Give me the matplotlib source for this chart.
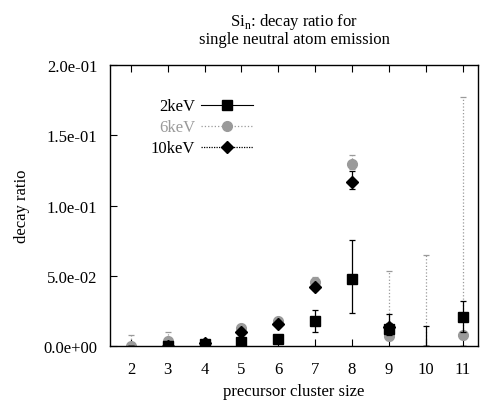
import numpy as np
import matplotlib
matplotlib.use("Agg")
import matplotlib.pyplot as plt
from matplotlib.lines import Line2D

plt.rcParams['font.family'] = ['Liberation Serif', 'DejaVu Serif']
plt.rcParams['mathtext.fontset'] = 'custom'
plt.rcParams['mathtext.rm'] = 'Liberation Serif'

# === donnees ===
sizes = [2, 3, 4, 5, 6, 7, 8, 9, 10, 11]

# nan = pas de point visible (valeur nulle cachee sous l'axe)
r2 = [np.nan, 0.0, 0.0015, 0.003, 0.005, 0.018, 0.048, 0.012, np.nan, 0.021]
r2_lo = [0.0, 0.0, 0.0, 0.002, 0.001, 0.008, 0.0245, 0.004, 0.0, 0.011]
r2_hi = [0.0, 0.0, 0.001, 0.002, 0.002, 0.008, 0.0275, 0.011, 0.014, 0.011]

r6 = [0.0, 0.004, 0.001, 0.013, 0.018, 0.046, 0.130, 0.0075, np.nan, 0.008]
r6_lo = [0.0, 0.003, 0.001, 0.002, 0.002, 0.003, 0.004, 0.003, 0.0, 0.003]
r6_hi = [0.008, 0.006, 0.001, 0.002, 0.002, 0.003, 0.006, 0.046, 0.065, 0.169]

r10 = [np.nan, 0.0, 0.002, 0.010, 0.016, 0.042, 0.117, 0.0135, np.nan, np.nan]
r10_lo = [0.0, 0.0, 0.001, 0.002, 0.002, 0.002, 0.005, 0.003, 0.0, 0.0]
r10_hi = [0.0, 0.0, 0.001, 0.002, 0.002, 0.002, 0.008, 0.003, 0.0, 0.0]

gray = '#9a9a9a'

fig = plt.figure(figsize=(4.8, 4.06), dpi=100)
ax = fig.add_axes([0.229, 0.145, 0.767, 0.692])


def draw(vals, lo, hi, marker, color, ms, ls, z):
    base = np.nan_to_num(np.array(vals, dtype=float))
    eb = ax.errorbar(sizes, base, yerr=[lo, hi], fmt='none', ecolor=color,
                     elinewidth=0.9, capsize=2, capthick=0.9, zorder=z)
    eb[2][0].set_linestyle(ls)
    ax.plot(sizes, vals, marker=marker, ls='none', color=color, ms=ms, zorder=z)


draw(r6, r6_lo, r6_hi, 'o', gray, 7, ':', 2)
draw(r10, r10_lo, r10_hi, 'D', 'black', 6, '-', 3)
draw(r2, r2_lo, r2_hi, 's', 'black', 7, '-', 4)

handles = [
    Line2D([], [], color='black', marker='s', ms=7, ls='-', lw=0.8),
    Line2D([], [], color=gray, marker='o', ms=7, ls=':', lw=0.9),
    Line2D([], [], color='black', marker='D', ms=6, ls=(0, (1, 1)), lw=0.9),
]
leg = ax.legend(handles, ['2keV', '6keV', '10keV'], loc='upper left',
                bbox_to_anchor=(0.07, 0.935), frameon=False, markerfirst=False,
                handlelength=3.1, fontsize=12, labelspacing=0.3,
                handletextpad=0.35)
leg.get_texts()[1].set_color(gray)

ax.set_xlim(1.43, 11.42)
ax.set_ylim(0, 0.2)
ax.set_xticks(sizes)
ax.set_yticks([0, 0.05, 0.1, 0.15, 0.2])
ax.set_yticklabels(['0.0e+00', '5.0e-02', '1.0e-01', '1.5e-01', '2.0e-01'])
ax.tick_params(direction='in', top=True, right=False, labelsize=12,
               length=5, width=0.8)
ax.tick_params(axis='x', pad=11)
ax.tick_params(axis='y', pad=9)
ax.set_xlabel('precursor cluster size', fontsize=12, labelpad=4)
ax.set_ylabel('decay ratio', fontsize=12, labelpad=10)
ax.set_title('Si$_\\mathrm{n}$: decay ratio for\nsingle neutral atom emission',
             fontsize=12, pad=16, linespacing=1.0)

for s in ax.spines.values():
    s.set_linewidth(1.0)

fig.savefig('out.png', dpi=100)
